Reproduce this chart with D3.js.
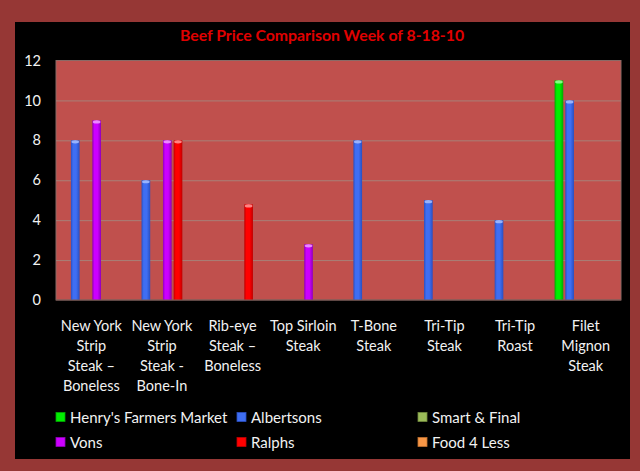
<!DOCTYPE html>
<html><head><meta charset="utf-8">
<script src="https://cdn.jsdelivr.net/npm/d3@7"></script>
<style>
html,body{margin:0;padding:0;background:#963735;}
svg{display:block;}
text{font-family:Lato,"Open Sans",sans-serif;}
</style></head>
<body>
<svg id="chart" width="640" height="471"></svg>
<script>
const title = "Beef Price Comparison Week of 8-18-10";
const categories = [
  ["New York","Strip","Steak –","Boneless"],
  ["New York","Strip","Steak -","Bone-In"],
  ["Rib-eye","Steak –","Boneless"],
  ["Top Sirloin","Steak"],
  ["T-Bone","Steak"],
  ["Tri-Tip","Steak"],
  ["Tri-Tip","Roast"],
  ["Filet","Mignon","Steak"]
];
const seriesNames = ["Henry's Farmers Market","Albertsons","Smart & Final","Vons","Ralphs","Food 4 Less"];
const henrys     = [null, null, null, null, null, null, null, 11];
const albertsons = [8, 6, null, null, 8, 5, 4, 10];
const smartFinal = [null, null, null, null, null, null, null, null];
const vons       = [9, 8, null, 2.79, null, null, null, null];
const ralphs     = [null, 8, 4.79, null, null, null, null, null];
const food4less  = [null, null, null, null, null, null, null, null];
const yTicks = [0, 2, 4, 6, 8, 10, 12];

const seriesValues = [henrys, albertsons, smartFinal, vons, ralphs, food4less];
const colors = ["#00ee00", "#3f6ef2", "#9bbb59", "#cc00ff", "#ff0000", "#f79646"];
const darker = ["#00a800", "#2a4fc0", "#71893e", "#9000b8", "#c00000", "#c0702e"];
const lighter = ["#9cff9c", "#a8c0ff", "#cfe0a8", "#f0a0ff", "#ff9a9a", "#ffd0a0"];

const svg = d3.select("#chart");
const defs = svg.append("defs");
colors.forEach((c, i) => {
  const g = defs.append("linearGradient").attr("id", "g" + i)
    .attr("x1", "0").attr("x2", "1").attr("y1", "0").attr("y2", "0");
  g.append("stop").attr("offset", "0").attr("stop-color", darker[i]);
  g.append("stop").attr("offset", "0.25").attr("stop-color", c);
  g.append("stop").attr("offset", "0.6").attr("stop-color", c);
  g.append("stop").attr("offset", "1").attr("stop-color", darker[i]);
});

// frame
svg.append("rect").attr("x", 0).attr("y", 0).attr("width", 640).attr("height", 471).attr("fill", "#963735");
svg.append("rect").attr("x", 15).attr("y", 22).attr("width", 615).attr("height", 437).attr("fill", "#000");

const pLeft = 56, pRight = 621, pTop = 60.5, pBottom = 300;

const x0 = d3.scaleBand().domain(d3.range(categories.length)).range([pLeft, pRight]).padding(0);
const x1 = d3.scaleBand().domain(d3.range(seriesNames.length))
  .range([4.2, x0.bandwidth() - 4.2]).paddingInner(0.19).paddingOuter(0);
const y = d3.scaleLinear().domain([0, 12]).range([pBottom, pTop]);

// plot area
svg.append("rect").attr("x", pLeft).attr("y", pTop).attr("width", pRight - pLeft).attr("height", pBottom - pTop)
  .attr("fill", "#c0504d").attr("stroke", "#8a6a66").attr("stroke-width", 1);

// gridlines
svg.append("g").attr("transform", `translate(${pLeft},0)`)
  .call(d3.axisLeft(y).tickValues(yTicks.filter(v => v > 0 && v < 12)).tickSize(-(pRight - pLeft)).tickFormat(""))
  .call(g => g.select(".domain").remove())
  .selectAll("line").attr("stroke", "#a88078").attr("stroke-width", 1);

// y axis labels
svg.append("g").attr("transform", `translate(${pLeft},0)`)
  .call(d3.axisLeft(y).tickValues(yTicks).tickSize(0).tickPadding(15))
  .call(g => g.select(".domain").remove())
  .selectAll("text").attr("fill", "#f2f2f2").style("font-size", "14.5px").style("font-family", "Lato");

// bars
seriesValues.forEach((vals, si) => {
  const g = svg.append("g");
  vals.forEach((v, ci) => {
    if (v == null) return;
    const bx = x0(ci) + x1(si), bw = x1.bandwidth();
    g.append("rect").attr("x", bx).attr("y", y(v)).attr("width", bw).attr("height", y(0) - y(v))
      .attr("fill", `url(#g${si})`);
    g.append("ellipse").attr("cx", bx + bw / 2).attr("cy", y(v) + 1.5).attr("rx", bw / 2 - 0.5).attr("ry", 1.6)
      .attr("fill", lighter[si]).attr("opacity", 0.85);
  });
});

// baseline
svg.append("line").attr("x1", pLeft).attr("x2", pRight).attr("y1", pBottom).attr("y2", pBottom)
  .attr("stroke", "#7a5a56").attr("stroke-width", 1);

// category labels
const xa = svg.append("g").attr("transform", `translate(0,${pBottom})`)
  .call(d3.axisBottom(x0).tickSize(0).tickFormat(""));
xa.select(".domain").remove();
xa.selectAll(".tick").each(function(d) {
  const t = d3.select(this).append("text").attr("fill", "#f2f2f2").attr("text-anchor", "middle")
    .style("font-size", "14.5px").style("font-family", "Lato");
  categories[d].forEach((line, li) => {
    t.append("tspan").attr("x", 0).attr("y", 31 + li * 20).text(line);
  });
});

// title
svg.append("text").attr("x", 322).attr("y", 40.5).attr("text-anchor", "middle")
  .attr("fill", "#e00000").style("font-weight", "bold").style("font-size", "15.8px").text(title);

// legend
const legX = [56, 237, 418];
const legY = [417, 442];
const leg = svg.append("g");
seriesNames.forEach((name, i) => {
  const col = i % 3, row = Math.floor(i / 3);
  const gx = legX[col], gy = legY[row];
  leg.append("rect").attr("x", gx).attr("y", gy - 4.5).attr("width", 9).attr("height", 9)
    .attr("fill", colors[i]).attr("stroke", darker[i]).attr("stroke-width", 0.8);
  leg.append("text").attr("x", gx + 14).attr("y", gy).attr("dominant-baseline", "central")
    .attr("fill", "#f2f2f2").style("font-size", "15px").text(name);
});
</script>
</body></html>
